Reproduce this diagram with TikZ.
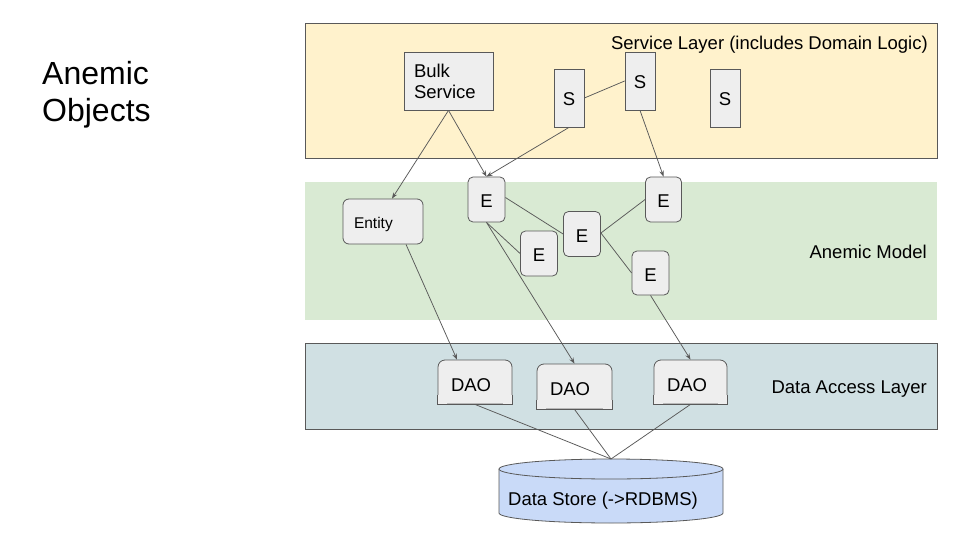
\documentclass[tikz,border=0pt]{standalone}
\usepackage{fontspec}
\setmainfont{Liberation Sans}
\usetikzlibrary{arrows.meta}
\definecolor{edge}{HTML}{595959}
\definecolor{svcfill}{HTML}{FFF2CC}
\definecolor{modfill}{HTML}{D9EAD3}
\definecolor{dalfill}{HTML}{D0E0E3}
\definecolor{boxfill}{HTML}{EEEEEE}
\definecolor{dbfill}{HTML}{C9DAF8}
\begin{document}
\begin{tikzpicture}[x=1pt,y=-1pt,
  lbl/.style={font=\fontsize{18.5}{21}\selectfont, inner sep=0pt},
  layerbox/.style={draw=edge, line width=0.8pt},
  sbox/.style={draw=edge, fill=boxfill, line width=0.8pt, inner sep=0pt, font=\fontsize{18.5}{21}\selectfont},
  onebox/.style={sbox, text height=16pt, text depth=0pt},
  ebox/.style={onebox, rounded corners=5pt},
  daobox/.style={onebox, rounded corners=7pt, text height=18pt, inner xsep=13pt, align=left},
  conn/.style={draw=edge, line width=0.75pt},
  arr/.style={conn, -{Stealth[length=6pt,width=4.5pt]}},
]
\useasboundingbox (0,0) rectangle (960,540);
\fill[white] (0,0) rectangle (960,540);

% layers
\draw[layerbox, fill=svcfill] (305,23) rectangle (937,158);
\fill[modfill] (305,182) rectangle (937,320);
\draw[layerbox, fill=dalfill] (305,343) rectangle (937,429);

% title and layer labels
\node[font=\fontsize{32}{37}\selectfont, align=left, anchor=north west, inner sep=0pt] (title) at (42,61) {Anemic\\Objects};
\node[lbl, anchor=base east] (svclbl) at (928,50) {Service Layer (includes Domain Logic)};
\node[lbl, anchor=base east] (modlbl) at (927,258) {Anemic Model};
\node[lbl, anchor=base east] (dallbl) at (927,393) {Data Access Layer};

% service layer
\node[sbox, minimum width=89pt, minimum height=58pt, text width=69pt, inner xsep=10pt, align=left] (bulk) at (448.5,81) {Bulk\\Service};
\node[onebox, minimum width=30pt, minimum height=58pt] (s1) at (569,98) {S};
\node[onebox, minimum width=30pt, minimum height=58pt] (s2) at (640,81) {S};
\node[onebox, minimum width=30pt, minimum height=58pt] (s3) at (725,98) {S};

% anemic model
\node[ebox, rounded corners=6pt, font=\fontsize{15.5}{18}\selectfont, text height=13pt, minimum height=45pt, text width=58pt, inner xsep=11pt, align=left] (entity) at (383,221.5) {Entity};
\node[ebox, minimum width=37pt, minimum height=45pt] (e1) at (486.5,199.5) {E};
\node[ebox, minimum width=37pt, minimum height=45pt] (e2) at (539,253.5) {E};
\node[ebox, minimum width=37pt, minimum height=45pt] (e3) at (582,234) {E};
\node[ebox, minimum width=36pt, minimum height=45pt] (e4) at (663.5,199.5) {E};
\node[ebox, minimum width=37pt, minimum height=44pt] (e5) at (650.5,273) {E};

% data access layer
\node[daobox, minimum height=44pt, text width=48pt] (dao1) at (475,382) {DAO};
\node[daobox, minimum height=45pt, text width=49pt] (dao2) at (574.5,386.5) {DAO};
\node[daobox, minimum height=44pt, text width=47pt] (dao3) at (690.5,382) {DAO};
\foreach \n in {dao1,dao2,dao3}{
  \fill[boxfill] (\n.south west) rectangle ++(9,-9);
  \fill[boxfill] (\n.south east) rectangle ++(-9,-9);
  \draw[edge, line width=0.8pt] (\n.south west) ++(0,-9) -- (\n.south west) -- (\n.south east) -- ++(0,-9);
}

% data store
\fill[dbfill] (499,469) -- (499,513) arc[start angle=180, end angle=0, x radius=112, y radius=10] -- (723,469) -- cycle;
\draw[edge, line width=0.8pt] (499,469) -- (499,513) arc[start angle=180, end angle=0, x radius=112, y radius=10] -- (723,469);
\draw[edge, line width=0.8pt, fill=dbfill] (611,469) ellipse [x radius=112, y radius=10];
\coordinate (dbtop) at (611,459);
\node[lbl, anchor=base west] (db) at (508,505) {Data Store (->RDBMS)};

% connectors
\draw[arr] (bulk.south) -- ([xshift=9pt]entity.north);
\draw[arr] (bulk.south) -- (e1.north);
\draw[arr] (s1.south) -- (e1.north);
\draw[conn] (s1.east) -- (s2.west);
\draw[arr] (s2.south) -- (e4.north);
\draw[conn] ([yshift=2pt]e1.east) -- (e3.west);
\draw[conn] (e1.south) -- (e2.west);
\draw[conn] ([yshift=1pt]e3.east) -- (e4.west);
\draw[conn] ([yshift=1pt]e3.east) -- (e5.west);
\draw[arr] ([xshift=23pt]entity.south) -- ([xshift=-18pt]dao1.north);
\draw[arr] (e1.south) -- (dao2.north);
\draw[arr] (e5.south) -- (dao3.north);
\draw[conn] (dao1.south) -- (dbtop);
\draw[conn] (dao2.south) -- (dbtop);
\draw[conn] (dao3.south) -- (dbtop);
\end{tikzpicture}
\end{document}
